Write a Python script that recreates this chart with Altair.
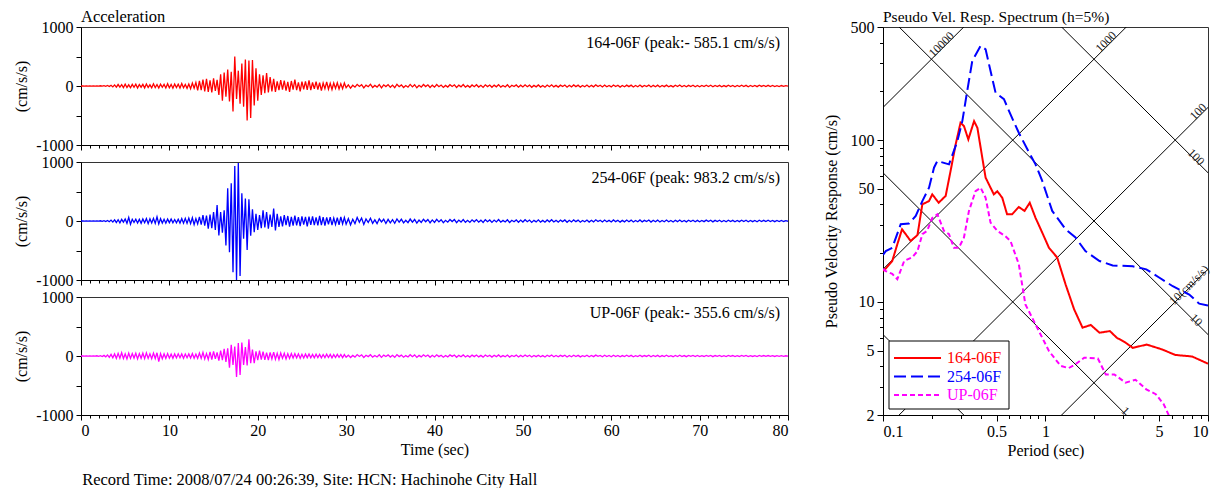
import altair as alt
import numpy as np
import pandas as pd

FONT = "Liberation Serif"

# ---------------- acceleration records (cm/s/s) ----------------
# early part: t = 0.0 ... 29.8 s, every 0.2 s ; late part: t = 30 ... 80 s, every 0.25 s
acc_164_early = [
    0, 1, -1, 2, -2, 1, -2, 3, -2, 2,
    -3, 4, -3, 5, -6, 8, -10, 12, -15, 18,
    -20, 25, -18, 22, -28, 30, -25, 20, -30, 28,
    -22, 30, -35, 25, -20, 28, -32, 35, -25, 20,
    -30, 38, -28, 25, -35, 30, -22, 28, -34, 40,
    -30, 25, -38, 33, -27, 30, -35, 42, -30, 26,
    -40, 35, -45, 50, -38, 60, -75, 85, -70, 110,
    -90, 120, -100, 95, -110, 130, -85, 105, -150, 200,
    -250, 230, -180, 280, -260, 240, -430, 500, -220, 260,
    -300, 380, -350, 450, -585, 430, -540, 440, -330, 300,
    -250, 200, -150, 180, -120, 220, -110, 150, -90, 120,
    -100, 80, -70, 100, -60, 90, -80, 70, -100, 85,
    -60, 110, -70, 60, -90, 75, -55, 80, -65, 95,
    -70, 60, -50, 75, -60, 55, -80, 50, -45, 70,
    -55, 45, -60, 50, -40, 55, -50, 40, -45, 50,
]
acc_164_late = [
    -30, 18, -35, 12, -20, 28, -8, 22, -33, 15, -12, 30, -25, 10, -18, 26, -30, 20, -10, 24,
    -22, 15, -28, 30, -12, 18, -25, 8, -20, 27, -15, 22, -30, 12, -18, 25, -10, 20, -26, 14,
    -20, 25, -12, 16, -24, 10, -18, 22, -8, 20, -25, 14, -15, 24, -20, 10, -22, 18, -12, 21,
    -18, 12, -24, 20, -10, 16, -22, 15, -14, 23, -19, 8, -16, 20, -24, 12, -10, 18, -20, 14,
    -16, 20, -12, 15, -22, 10, -14, 18, -18, 9, -20, 16, -12, 21, -15, 10, -18, 14, -9, 17,
    -20, 12, -15, 18, -10, 14, -19, 8, -13, 16, -17, 11, -14, 19, -8, 13, -16, 15, -12, 10,
    -15, 17, -10, 12, -18, 9, -13, 15, -11, 14, -16, 8, -12, 17, -14, 10, -9, 15, -17, 11,
    -12, 14, -16, 9, -11, 15, -13, 7, -15, 12, -10, 16, -12, 9, -14, 11, -8, 13, -12, 10,
    -13, 9, -10, 14, -8, 12, -14, 10, -9, 11, -12, 7, -11, 13, -9, 10, -13, 8, -10, 12,
    -9, 11, -12, 8, -10, 9, -11, 12, -7, 10, -9, 11, -8, 9, -10, 7, -9, 8, -7, 6,
    -4,
]
acc_254_early = [
    0, 1, -1, 1, -2, 2, -1, 2, -3, 3,
    -2, 4, -5, 6, -8, 10, -12, 15, -18, 20,
    -25, 22, -30, 28, -20, 35, -40, 60, -55, 30,
    -25, 30, -35, 28, -40, 35, -30, 40, -45, 38,
    -35, 45, -40, 70, -50, 40, -35, 30, -38, 32,
    -28, 35, -30, 25, -32, 30, -35, 40, -38, 45,
    -40, 50, -45, 55, -60, 40, -50, 70, -60, 100,
    -80, 90, -130, 110, -120, 150, -150, 270, -245, 150,
    -200, 180, -416, 555, -530, 640, -870, 930, -1000, 983,
    -930, 470, -300, 380, -490, 370, -250, 200, -190, 120,
    -150, 100, -120, 180, -110, 150, -130, 110, -100, 210,
    -160, 120, -100, 80, -90, 100, -70, 85, -95, 70,
    -80, 90, -75, 65, -85, 80, -60, 70, -90, 75,
    -65, 80, -70, 60, -75, 85, -70, 65, -80, 60,
    -55, 65, -70, 50, -60, 55, -65, 70, -50, 60,
]
acc_254_late = [
    -55, 40, -65, 30, -45, 60, -20, 50, -58, 35, -25, 48, -40, 20, -45, 38, -15, 30, -42, 28,
    -30, 22, -38, 35, -18, 30, -32, 12, -28, 33, -20, 26, -35, 15, -24, 30, -12, 26, -30, 18,
    -25, 28, -15, 22, -28, 12, -20, 26, -10, 24, -27, 16, -18, 25, -22, 12, -24, 20, -14, 23,
    -20, 14, -25, 22, -12, 18, -23, 16, -15, 24, -20, 10, -17, 21, -25, 13, -12, 19, -21, 15,
    -18, 21, -13, 16, -23, 11, -15, 19, -19, 10, -21, 17, -13, 22, -16, 11, -19, 15, -10, 18,
    -21, 13, -16, 19, -11, 15, -20, 9, -14, 17, -18, 12, -15, 20, -9, 14, -17, 16, -13, 11,
    -16, 18, -11, 13, -19, 10, -14, 16, -12, 15, -17, 9, -13, 18, -15, 11, -10, 16, -18, 12,
    -13, 15, -17, 10, -12, 16, -14, 8, -16, 13, -11, 17, -13, 10, -15, 12, -9, 14, -13, 11,
    -14, 10, -11, 15, -9, 13, -15, 11, -10, 12, -13, 8, -12, 14, -10, 11, -14, 9, -11, 13,
    -10, 12, -13, 9, -11, 10, -12, 13, -8, 11, -10, 12, -9, 10, -11, 8, -10, 9, -8, 7,
    -5,
]
acc_up_early = [
    0, 1, -1, 2, -1, 2, -2, 3, -3, 4,
    -5, 6, -8, 10, -14, 18, -22, 28, -30, 35,
    -40, 45, -38, 55, -42, 35, -50, 48, -40, 42,
    -35, 45, -50, 40, -38, 48, -45, 52, -40, 38,
    -45, 50, -42, 55, -95, 40, -48, 35, -40, 42,
    -36, 30, -40, 35, -32, 38, -30, 35, -38, 33,
    -30, 36, -34, 40, -38, 30, -40, 50, -40, 60,
    -50, 40, -60, 70, -60, 80, -50, 60, -80, 90,
    -70, 120, -100, 130, -200, 190, -150, 160, -356, 220,
    -320, 230, -150, 150, -160, 285, -120, 110, -120, 80,
    -70, 90, -60, 75, -65, 55, -70, 60, -50, 65,
    -55, 45, -60, 50, -40, 45, -50, 38, -42, 40,
    -35, 40, -30, 36, -38, 30, -34, 32, -28, 35,
    -30, 28, -32, 30, -26, 28, -30, 25, -28, 30,
    -25, 28, -30, 24, -26, 28, -22, 25, -27, 24,
]
acc_up_late = [
    -22, 14, -26, 10, -18, 24, -8, 20, -25, 12, -10, 22, -19, 9, -16, 21, -23, 15, -9, 19,
    -18, 12, -22, 24, -10, 15, -20, 7, -17, 22, -12, 18, -24, 10, -15, 20, -8, 17, -21, 11,
    -17, 20, -10, 13, -20, 8, -15, 18, -7, 17, -21, 11, -12, 19, -16, 8, -18, 15, -10, 17,
    -15, 10, -19, 16, -8, 13, -18, 12, -11, 18, -15, 7, -13, 16, -19, 10, -8, 15, -16, 11,
    -13, 16, -10, 12, -17, 8, -11, 14, -14, 7, -16, 13, -10, 17, -12, 8, -14, 11, -7, 13,
    -16, 9, -12, 14, -8, 11, -15, 6, -10, 13, -13, 9, -11, 15, -6, 10, -13, 12, -9, 8,
    -12, 13, -8, 10, -14, 7, -10, 12, -9, 11, -13, 6, -10, 13, -11, 8, -7, 12, -13, 9,
    -10, 11, -13, 7, -9, 12, -10, 6, -12, 9, -8, 12, -10, 7, -11, 9, -6, 10, -9, 8,
    -10, 7, -8, 11, -6, 9, -11, 8, -7, 9, -10, 5, -9, 10, -7, 8, -10, 6, -8, 9,
    -7, 9, -9, 6, -8, 7, -9, 9, -5, 8, -7, 8, -6, 7, -8, 5, -7, 6, -5, 4,
    -3,
]

components = ["164-06F", "254-06F", "UP-06F"]
colors = ["#ff0000", "#0000ff", "#ff00ff"]
dashes = [[1, 0], [12, 5], [5, 3]]
peak_labels = [
    "164-06F (peak:- 585.1 cm/s/s)",
    "254-06F (peak: 983.2 cm/s/s)",
    "UP-06F (peak:- 355.6 cm/s/s)",
]

# ---------------- pseudo velocity response spectra (cm/s) ----------------
per_164 = [0.1, 0.104, 0.114, 0.1225, 0.131, 0.148, 0.163, 0.1746, 0.192, 0.201,
           0.22, 0.243, 0.2605, 0.28, 0.30, 0.315, 0.335, 0.3635, 0.381, 0.399,
           0.418, 0.428, 0.459, 0.481, 0.505, 0.542, 0.58, 0.623, 0.685, 0.743,
           0.80, 0.868, 0.955, 1.05, 1.18, 1.33, 1.50, 1.69, 1.90, 2.15,
           2.49, 2.75, 3.11, 3.44, 4.2, 5.2, 6.3, 7.98, 10]
psv_164 = [15.5, 16.1, 17.9, 22.7, 28.1, 23.8, 25.9, 40.1, 42, 46.2,
           41, 45.2, 64.4, 94.2, 128, 122, 101, 131, 119, 89.7,
           67.5, 58.6, 50.8, 46.2, 48.3, 44, 34.8, 34.8, 38.6, 36.5,
           41, 33.1, 26.8, 21.6, 18.8, 12.8, 9.0, 6.93, 7.2, 6.45,
           6.6, 6.0, 5.6, 5.2, 5.45, 5.09, 4.7, 4.6, 4.15]
per_254 = [0.1, 0.104, 0.114, 0.1285, 0.1445, 0.159, 0.1746, 0.192, 0.206, 0.216,
           0.2548, 0.287, 0.3077, 0.3298, 0.3542, 0.3987, 0.428, 0.459, 0.493, 0.555,
           0.609, 0.685, 0.772, 0.868, 0.955, 1.10, 1.33, 1.53, 1.76, 2.15,
           2.59, 3.44, 4.17, 5.03, 6.07, 7.67, 8.83, 10]
psv_254 = [19.5, 20.6, 21.6, 30.2, 30.5, 34, 42, 50.8, 67.5, 74.3,
           70.8, 98.7, 131, 201, 308, 382, 364, 267, 196, 179,
           144, 111, 88, 70.8, 55.9, 36.5, 28.1, 25, 20.6, 17.9,
           16.8, 16.6, 15.9, 14.1, 12.5, 11.1, 9.75, 9.5]
per_up = [0.1, 0.104, 0.114, 0.1225, 0.135, 0.1515, 0.163, 0.1746, 0.187, 0.201,
          0.216, 0.237, 0.2548, 0.273, 0.293, 0.315, 0.338, 0.371, 0.399, 0.428,
          0.459, 0.505, 0.566, 0.609, 0.685, 0.752, 0.868, 1.05, 1.24, 1.39,
          1.53, 1.73, 2.10, 2.35, 2.65, 3.11, 3.58, 4.17, 4.77, 5.34, 5.86]
psv_up = [16, 15.5, 14.9, 13.8, 17.9, 18.9, 20.6, 26.2, 27.5, 33.1,
          34.8, 27.5, 26.2, 21.6, 21.6, 25, 36.5, 48.3, 50.8, 44,
          30.9, 27.5, 25.5, 23.8, 17.1, 9.66, 7.27, 4.97, 4.02, 3.9,
          4.12, 4.52, 4.47, 3.56, 3.56, 3.17, 3.3, 2.88, 2.69, 2.33, 1.9]

# tripartite guide lines
sd_values = [0.1, 1, 10, 100]          # displacement (cm)
sa_values = [10, 100, 1000, 10000]     # acceleration (cm/s/s)
guide_text = ["10000", "1000", "100", "100", "10(cm/s/s)", "10", "1"]
guide_T = [0.2286, 2.35, 8.67, 8.47, 7.64, 8.47, 3.11]
guide_V = [391, 406, 150, 78.6, 12.7, 7.73, 2.12]
guide_angle = [315, 315, 315, 45, 315, 45, 45]

caption = "Record Time: 2008/07/24 00:26:39, Site: HCN: Hachinohe City Hall"

# ---------------- left: acceleration panels ----------------
TS_W, TS_H = 707, 118


def ts_panel(early, late, color, label, bottom, title=None):
    t = np.concatenate([np.arange(len(early)) * 0.2, 30 + np.arange(len(late)) * 0.25])
    df = pd.DataFrame({"t": np.round(t, 2), "acc": list(early) + list(late)})
    xaxis = dict(
        values=list(range(0, 81)),
        labelExpr="datum.value % 10 === 0 ? '' + datum.value : ''",
        tickSize={"condition": {"test": "datum.value % 10 === 0", "value": 5}, "value": 3},
        labels=bottom,
        labelPadding=2,
        title="Time (sec)" if bottom else None,
        titlePadding=3,
    )
    x = alt.X("t:Q", scale=alt.Scale(domain=[0, 80], nice=False, zero=False), axis=alt.Axis(**xaxis))
    y = alt.Y(
        "acc:Q",
        scale=alt.Scale(domain=[-1000, 1000], nice=False),
        axis=alt.Axis(
            values=[-1000, -500, 0, 500, 1000],
            labelExpr="datum.value % 1000 === 0 ? '' + datum.value : ''",
            tickSize=5,
            labelPadding=3,
            title="(cm/s/s)",
            titlePadding=6,
        ),
    )
    line = alt.Chart(df).mark_line(color=color, strokeWidth=1.3, clip=True).encode(x=x, y=y)
    txt = alt.Chart(pd.DataFrame({"label": [label]})).mark_text(
        align="right", baseline="middle", font=FONT, fontSize=16, color="black"
    ).encode(text="label:N", x=alt.value(TS_W - 8), y=alt.value(16))
    ch = alt.layer(line, txt).properties(width=TS_W, height=TS_H)
    if title:
        ch = ch.properties(title=alt.TitleParams(title, anchor="start", frame="group", offset=-6, fontSize=16.5))
    return ch


p1 = ts_panel(acc_164_early, acc_164_late, colors[0], peak_labels[0], False, "Acceleration")
p2 = ts_panel(acc_254_early, acc_254_late, colors[1], peak_labels[1], False)
p3 = ts_panel(acc_up_early, acc_up_late, colors[2], peak_labels[2], True)
left = alt.vconcat(p1, p2, p3, spacing=17, bounds="flush")

# ---------------- right: response spectrum ----------------
SP_W, SP_H = 325, 388
curves = pd.concat([
    pd.DataFrame({"T": per_164, "V": psv_164, "comp": components[0]}),
    pd.DataFrame({"T": per_254, "V": psv_254, "comp": components[1]}),
    pd.DataFrame({"T": per_up, "V": psv_up, "comp": components[2]}),
])

rows = []
for sd in sd_values:
    for T in (0.05, 20.0):
        rows.append({"id": f"d{sd}", "T": T, "V": 2 * np.pi * sd / T})
for sa in sa_values:
    for T in (0.05, 20.0):
        rows.append({"id": f"a{sa}", "T": T, "V": sa * T / (2 * np.pi)})
guides = pd.DataFrame(rows)
guide_lab = pd.DataFrame({"text": guide_text, "T": guide_T, "V": guide_V, "angle": guide_angle})

xs = [0.1, 0.2, 0.3, 0.4, 0.5, 0.6, 0.7, 0.8, 0.9, 1, 2, 3, 4, 5, 6, 7, 8, 9, 10]
ys = [2, 3, 4, 5, 6, 7, 8, 9, 10, 20, 30, 40, 50, 60, 70, 80, 90, 100, 200, 300, 400, 500]
sx = alt.X(
    "T:Q",
    scale=alt.Scale(type="log", domain=[0.1, 10], nice=False),
    axis=alt.Axis(
        values=xs,
        labelExpr="indexof([0.1, 0.5, 1, 5, 10], datum.value) >= 0 ? '' + datum.value : ''",
        tickSize={"condition": {"test": "indexof([0.1, 0.5, 1, 5, 10], datum.value) >= 0", "value": 6}, "value": 3.5},
        labelPadding=2,
        title="Period (sec)",
        titlePadding=3,
    ),
)
sy = alt.Y(
    "V:Q",
    scale=alt.Scale(type="log", domain=[2, 500], nice=False),
    axis=alt.Axis(
        values=ys,
        labelExpr="indexof([2, 5, 10, 50, 100, 500], datum.value) >= 0 ? '' + datum.value : ''",
        tickSize={"condition": {"test": "indexof([2, 5, 10, 50, 100, 500], datum.value) >= 0", "value": 6}, "value": 3.5},
        labelPadding=3,
        title="Pseudo Velocity Response (cm/s)",
        titlePadding=11,
    ),
)

grid_layer = alt.Chart(guides).mark_line(color="black", strokeWidth=1, clip=True).encode(
    x=sx, y=sy, detail="id:N"
)
glab_layer = alt.Chart(guide_lab).mark_text(
    font=FONT, fontSize=12, color="#222", align="center", baseline="middle"
).encode(x=sx, y=sy, text="text:N", angle=alt.Angle("angle:Q", scale=None))

curve_layer = alt.Chart(curves).mark_line(strokeWidth=2, clip=True).encode(
    x=sx,
    y=sy,
    color=alt.Color("comp:N", scale=alt.Scale(domain=components, range=colors), legend=None),
    strokeDash=alt.StrokeDash("comp:N", scale=alt.Scale(domain=components, range=dashes), legend=None),
)

# hand-drawn legend box inside the plot (bottom-left)
box = alt.Chart(pd.DataFrame({"k": [0]})).mark_rect(
    fill="white", stroke="black", strokeWidth=1
).encode(x=alt.value(6), x2=alt.value(126), y=alt.value(SP_H - 74), y2=alt.value(SP_H - 6))
legend_layers = [box]
for i, (comp, col, dsh) in enumerate(zip(components, colors, dashes)):
    yy = SP_H - 57 + i * 18.5
    legend_layers.append(
        alt.Chart(pd.DataFrame({"comp": [comp]})).mark_rule(
            color=col, strokeWidth=2, strokeDash=dsh
        ).encode(x=alt.value(11), x2=alt.value(58), y=alt.value(yy))
    )
    legend_layers.append(
        alt.Chart(pd.DataFrame({"comp": [comp]})).mark_text(
            align="left", baseline="middle", font=FONT, fontSize=16, color=col
        ).encode(text="comp:N", x=alt.value(64), y=alt.value(yy))
    )

spec = alt.layer(grid_layer, glab_layer, curve_layer, *legend_layers).properties(
    width=SP_W,
    height=SP_H,
    title=alt.TitleParams("Pseudo Vel. Resp. Spectrum (h=5%)", anchor="start", frame="group", offset=-6, fontSize=15.5),
)

chart = alt.hconcat(left, spec, spacing=33).properties(
    title=alt.TitleParams(caption, orient="bottom", anchor="start", fontSize=16.5, offset=13, dx=69),
    padding={"left": 5, "top": 0, "right": 5, "bottom": 0},
).configure_view(
    stroke="#333", strokeWidth=1
).configure_axis(
    labelFont=FONT, titleFont=FONT, labelFontSize=16, titleFontSize=16, titleFontWeight="normal",
    domainColor="black", tickColor="black", labelColor="black", titleColor="black", grid=False,
).configure_title(
    font=FONT, fontSize=15, fontWeight="normal", color="black"
)

chart.save("out.html", embed_options={"renderer": "svg", "actions": False})
